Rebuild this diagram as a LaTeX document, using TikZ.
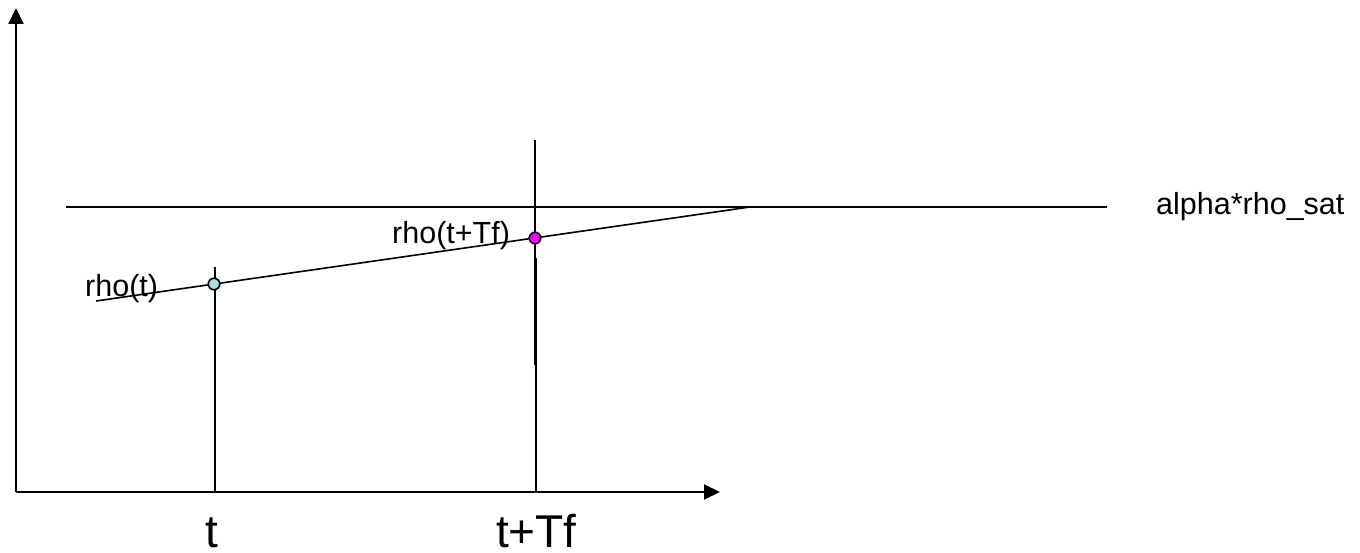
\documentclass[tikz,border=0pt]{standalone}
\usepackage{fontspec}
\setmainfont{Liberation Sans}
\usetikzlibrary{arrows.meta}
\definecolor{dotcyan}{RGB}{170,220,222}
\definecolor{dotmag}{RGB}{255,0,255}
\begin{document}
\begin{tikzpicture}[x=1pt,y=-1pt,
  axis/.style={line width=2pt,-{Triangle[width=15pt,length=16pt]}},
  ln/.style={line width=1.6pt},
  thin/.style={line width=1.1pt},
  dot/.style={circle,draw=black,line width=1.6pt,minimum size=11.5pt,inner sep=0pt},
  lbl/.style={font=\fontsize{30.5}{36}\selectfont,inner sep=0pt},
  big/.style={font=\fontsize{46}{52}\selectfont,inner sep=0pt}]
\useasboundingbox (0,0) rectangle (1360,553);
\fill[white] (0,0) rectangle (1360,553);
% coordinates
\coordinate (O) at (16,492);
\coordinate (Ytop) at (16,8);
\coordinate (Xend) at (720,492);
\coordinate (H1) at (66,207);
\coordinate (H2) at (1107,207);
\coordinate (S1) at (96,301);
\coordinate (S2) at (750,207);
\coordinate (V1top) at (215,267);
\coordinate (V1bot) at (215,492);
\coordinate (V2top) at (535,140);
\coordinate (V2mid) at (535,365);
\coordinate (V3top) at (536,258);
\coordinate (V3bot) at (536,492);
% axes
\draw[axis] (O) -- (Ytop);
\draw[axis] (O) -- (Xend);
% lines
\draw[ln] (H1) -- (H2);
\draw[ln] (S1) -- (S2);
\draw[ln] (V1top) -- (V1bot);
\draw[thin] (V2top) -- (V2mid);
\draw[ln] (V3top) -- (V3bot);
% dots
\node[dot,fill=dotcyan] (P1) at (214,284) {};
\node[dot,fill=dotmag] (P2) at (535,238) {};
% labels
\node[lbl,anchor=base west] (L1) at (85,297) {rho(t)};
\node[lbl,anchor=base west] (L2) at (392,244) {rho(t+Tf)};
\node[lbl,anchor=base west] (L3) at (1156,215) {alpha*rho\_sat};
\node[big,anchor=base west] (L4) at (205,547) {t};
\node[big,anchor=base west] (L5) at (496,547) {t+Tf};
\end{tikzpicture}
\end{document}
